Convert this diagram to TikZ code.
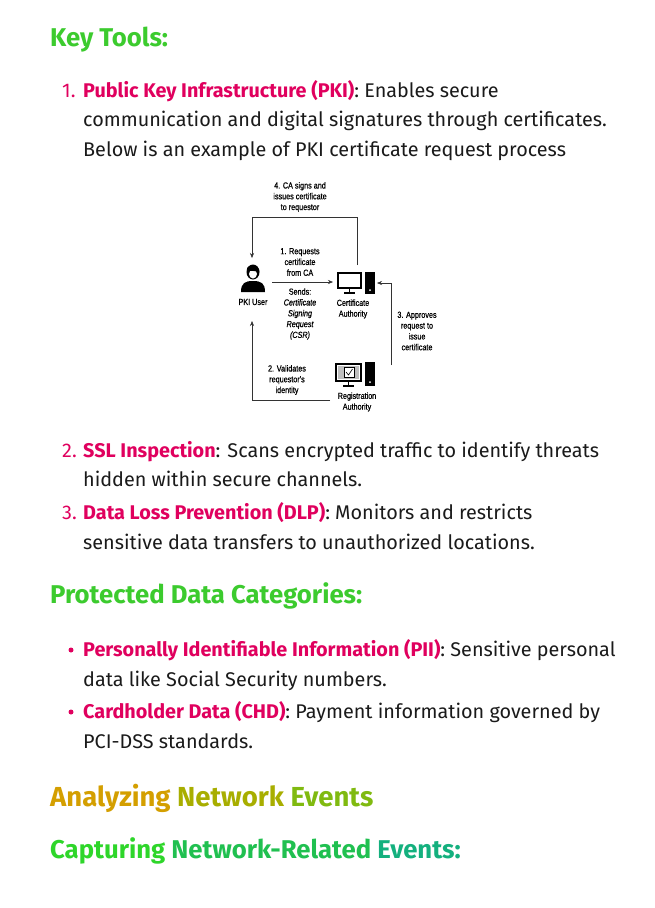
\documentclass[tikz,border=0pt]{standalone}
\usepackage{fontspec}
\usetikzlibrary{arrows.meta}
\setmainfont{Fira Sans}
\newfontfamily\dfont[FakeStretch=0.82,FakeBold=0.6]{Liberation Sans}
\definecolor{kgreen}{HTML}{3CCB2E}
\definecolor{kpink}{HTML}{E0005E}
\definecolor{ktxt}{HTML}{1A1A1A}
\begin{document}
\begin{tikzpicture}[x=1pt,y=-1pt,
  body/.style={anchor=base west,inner sep=0pt,font=\fontsize{19.8}{23}\selectfont,text=ktxt},
  head/.style={anchor=base west,inner sep=0pt,font=\fontsize{25.7}{30}\selectfont\bfseries},
  dl/.style={font=\dfont\fontsize{8.8}{10.8}\selectfont,align=center,inner sep=0pt},
  arr/.style={-{Stealth[length=5pt,width=4pt]},line width=0.5pt,draw=black!80}]
\useasboundingbox (0,0) rectangle (654,908);
\fill[white] (0,0) rectangle (654,908);
\node[head,text=kgreen] (h1) at (50,46) {Key Tools:};
\node[body,text=kpink] (n1) at (62,97) {1.};
\node[body] (t1a) at (83,97) {\textcolor{kpink}{\bfseries Public Key Infrastructure (PKI)}: Enables secure};
\node[body] (t1b) at (83,126) {communication and digital signatures through certificates.};
\node[body] (t1c) at (83,156) {Below is an example of PKI certificate request process};
% diagram
\node[dl] (t4) at (300,197) {4. CA signs and\\issues certificate\\to requestor};
\node[dl] (t1) at (300,262) {1. Requests\\certificate\\from CA};
\node[dl] (ts) at (300,314) {Sends:\\\itshape Certificate\\\itshape Signing\\\itshape Request\\\itshape (CSR)};
\node[dl] (tu) at (253,302) {PKI User};
\node[dl] (tca) at (353,309) {Certificate\\Authority};
\node[dl] (t3) at (417,331) {3. Approves\\request to\\issue\\certificate};
\node[dl] (t2) at (287,380) {2. Validates\\requestor's\\identity};
\node[dl] (tra) at (357,402) {Registration\\Authority};
% user icon
\coordinate (u) at (253,278);
\fill[black] (241,292) .. controls (241,283) and (245,281) .. (253,281) .. controls (261,281) and (265,283) .. (265,292) -- cycle;
\fill[black] (253,272) ellipse (6.5 and 7.5);
\fill[white] (253,274) ellipse (4 and 4.5);
\fill[black] (247,268) .. controls (250,264) and (257,264) .. (259,270) -- (259,272) .. controls (255,271) and (250,270) .. (247,272) -- cycle;
% CA icon
\draw[line width=1.6pt] (338,273) rectangle (361,288);
\draw[line width=1.6pt] (349.5,288) -- (349.5,292) (344,293) -- (355,293);
\fill[black] (365,272) rectangle (375,294);
\fill[white] (370,290) circle (1);
\coordinate (ca) at (357,272);
% RA icon
\draw[line width=1.6pt] (336,364) rectangle (361,381);
\fill[black!25] (338,366) rectangle (359,379);
\draw[line width=0.8pt,fill=white] (344,367) rectangle (354,377);
\draw[line width=0.6pt] (346,372) -- (348.5,375) -- (352.5,369);
\draw[line width=1.6pt] (348.5,381) -- (348.5,385) (343,386) -- (354,386);
\fill[black] (365,362) rectangle (375,386);
\fill[white] (370,382) circle (1);
% arrows
\draw[arr] (357,265) -- (357,217) -- (252,217) -- (252,258);
\draw[arr] (272,282) -- (333,282);
\draw[arr] (391,365) -- (391,283) -- (377,283);
\draw[arr] (330,400) -- (252,400) -- (252,321);
% items 2,3
\node[body,text=kpink] (n2) at (62,457) {2.};
\node[body] (t2a) at (83,457) {\textcolor{kpink}{\bfseries SSL Inspection}: Scans encrypted traffic to identify threats};
\node[body] (t2b) at (83,486) {hidden within secure channels.};
\node[body,text=kpink] (n3) at (62,519) {3.};
\node[body] (t3a) at (83,519) {\textcolor{kpink}{\bfseries Data Loss Prevention (DLP)}: Monitors and restricts};
\node[body] (t3b) at (83,549) {sensitive data transfers to unauthorized locations.};
\node[head,text=kgreen] (h2) at (50,603) {Protected Data Categories:};
\fill[kpink] (71,650) circle (2.5);
\node[body] (p1a) at (83,656) {\textcolor{kpink}{\bfseries Personally Identifiable Information (PII)}: Sensitive personal};
\node[body] (p1b) at (83,686) {data like Social Security numbers.};
\fill[kpink] (71,712) circle (2.5);
\node[body] (p2a) at (83,718) {\textcolor{kpink}{\bfseries Cardholder Data (CHD)}: Payment information governed by};
\node[body] (p2b) at (83,748) {PCI-DSS standards.};
\definecolor{ga}{HTML}{D49F00}\definecolor{gb}{HTML}{A8AE00}\definecolor{gc}{HTML}{80BA10}
\node[head,font=\fontsize{27.5}{32}\selectfont\bfseries] (h3) at (50,806) {\textcolor{ga}{Analyzing} \textcolor{gb}{Network} \textcolor{gc}{Events}};
\definecolor{gd}{HTML}{2ED62A}\definecolor{ge}{HTML}{20C050}\definecolor{gf}{HTML}{14B07E}
\node[head] (h4) at (50,858) {\textcolor{gd}{Capturing} \textcolor{ge}{Network-Related} \textcolor{gf}{Events:}};
\end{tikzpicture}
\end{document}
